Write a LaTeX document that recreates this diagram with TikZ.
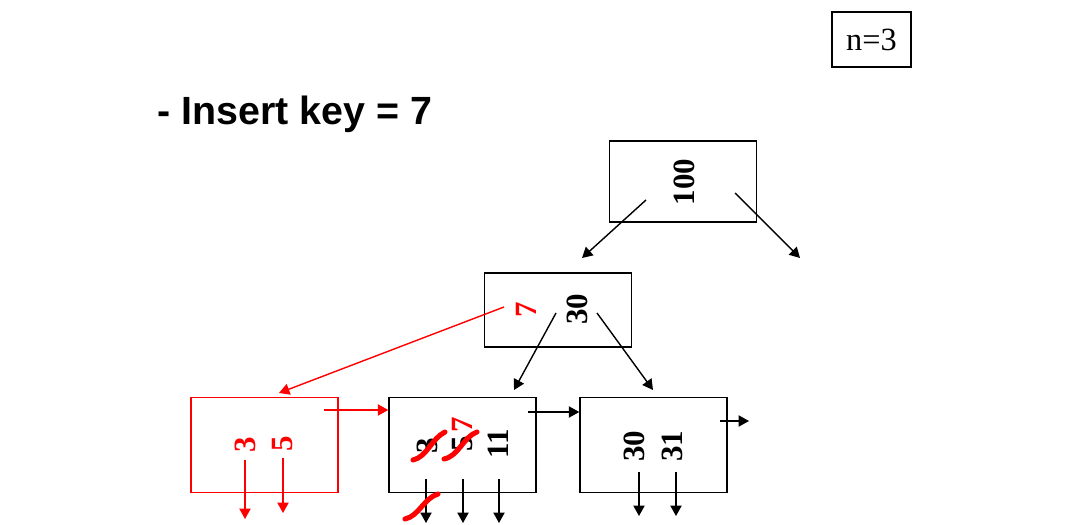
\documentclass[tikz,border=0pt]{standalone}
\usepackage{fontspec}
\setmainfont{Liberation Serif}
\newfontfamily\titlefont{Liberation Sans}
\usetikzlibrary{arrows.meta}
\tikzset{
  ptr/.style={-{Triangle[length=2.6mm, width=2.8mm]}, line width=1pt},
  redptr/.style={ptr, red},
  treebox/.style={draw, line width=1pt, minimum width=3.675cm, inner sep=0pt},
  leafbox/.style={treebox, minimum height=2.375cm},
  redbox/.style={leafbox, draw=red},
  keytext/.style={rotate=90, inner sep=0pt, font=\fontsize{22}{22}\selectfont\bfseries},
  redkey/.style={keytext, text=red},
  strike/.style={red, line width=3.6pt, line cap=round}
}

\begin{document}
\begin{tikzpicture}[x=0.025cm, y=-0.025cm]
  \useasboundingbox (0,0) rectangle (1065,525);

  % title and order
  \node[anchor=base west, inner sep=0pt, font=\titlefont\fontsize{28}{28}\selectfont\bfseries] (title) at (157,125) {- Insert key = 7};
  \node[draw, line width=1.4pt, minimum width=1.975cm, minimum height=1.375cm, font=\fontsize{23}{23}\selectfont] (order) at (871.5,39.5) {n=3};

  % boxes
  \node[treebox, minimum height=2.025cm] (root) at (683,181.5) {};
  \node[treebox, minimum height=1.85cm] (mid) at (558,310) {};
  \node[redbox] (leaf1) at (264.5,445) {};
  \node[leafbox] (leaf2) at (462.5,445) {};
  \node[leafbox] (leaf3) at (653.5,445) {};

  % keys
  \node[keytext] (k100) at (684,182) {100};
  \node[redkey] (k7) at (526,310) {7};
  \node[keytext] (k30) at (577,309) {30};
  \node[redkey] (n3) at (245,445) {3};
  \node[redkey] (n5) at (283,444) {5};
  \node[keytext] (o3) at (427,446) {3};
  \node[keytext] (o5) at (463,444) {5};
  \node[redkey] (o7) at (462,425) {7};
  \node[keytext] (o11) at (498,444) {11};
  \node[keytext] (q30) at (634,446) {30};
  \node[keytext] (q31) at (672,446) {31};

  % pointer ends
  \coordinate (r1) at (646,200);
  \coordinate (r1e) at (582,258);
  \coordinate (r2) at (735,193);
  \coordinate (r2e) at (800,258);
  \coordinate (m0) at (504,307);
  \coordinate (m0e) at (279,393);
  \coordinate (m1) at (556,313);
  \coordinate (m1e) at (514,390);
  \coordinate (m2) at (597,313);
  \coordinate (m2e) at (653,390);
  \coordinate (s1) at (324,410);
  \coordinate (s2) at (528,412);
  \coordinate (s3) at (720,421);
  \coordinate (s3e) at (749,421);

  \draw[ptr] (r1) -- (r1e);
  \draw[ptr] (r2) -- (r2e);
  \draw[redptr] (m0) -- (m0e);
  \draw[ptr] (m1) -- (m1e);
  \draw[ptr] (m2) -- (m2e);
  \draw[redptr] (s1) -- (s1 -| leaf2.west);
  \draw[ptr] (s2) -- (s2 -| leaf3.west);
  \draw[ptr] (s3) -- (s3e);

  % data pointers
  \draw[redptr] (245,460) -- (245,519);
  \draw[redptr] (283,458) -- (283,513);
  \draw[ptr] (426,479) -- (426,523);
  \draw[ptr] (463,479) -- (463,523);
  \draw[ptr] (499,479) -- (499,523);
  \draw[ptr] (639,472) -- (639,516);
  \draw[ptr] (676,472) -- (676,516);

  % crossed out
  \draw[strike] (413,460) .. controls (427,457) and (432,438) .. (445,432);
  \draw[strike] (444,459) .. controls (459,456) and (463,437) .. (477,432);
  \draw[strike] (405,519) .. controls (419,516) and (424,498) .. (438,494);
\end{tikzpicture}
\end{document}
